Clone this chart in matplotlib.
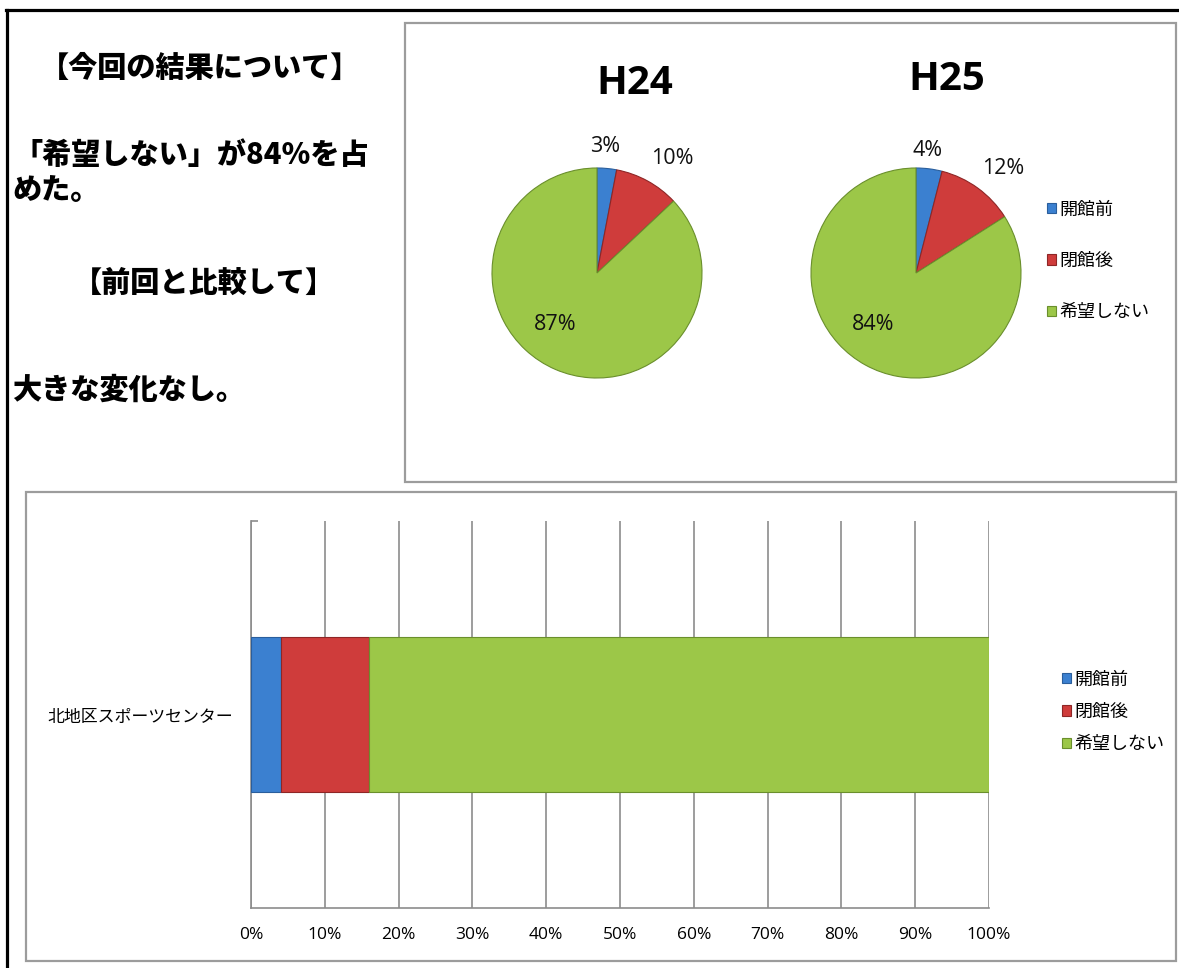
import matplotlib
matplotlib.use("Agg")
import matplotlib.pyplot as plt
from matplotlib.patches import Rectangle
from matplotlib.lines import Line2D
import numpy as np

plt.rcParams['font.family'] = ['Noto Sans CJK JP', 'DejaVu Sans']

# ---------------- data ----------------
categories = ["開館前", "閉館後", "希望しない"]
pie_years = ["H24", "H25"]
pie_h24 = [3, 10, 87]
pie_h25 = [4, 12, 84]
bar_category = "北地区スポーツセンター"
bar_values = [4, 12, 84]
x_ticks = [0, 10, 20, 30, 40, 50, 60, 70, 80, 90, 100]
x_tick_labels = [f"{v}%" for v in x_ticks]

notes_title1 = "【今回の結果について】"
notes_line1 = "「希望しない」が84%を占"
notes_line2 = "めた。"
notes_title2 = "【前回と比較して】"
notes_line3 = "大きな変化なし。"

colors = ["#3b80d0", "#cf3c3b", "#9cc748"]
edges = ["#2a5e9c", "#8e2626", "#6a8f2c"]

# ---------------- figure ----------------
W, H = 1179, 968
fig = plt.figure(figsize=(W / 100, H / 100), dpi=100)
fig.patch.set_facecolor("white")


def fx(x):
    return x / W


def fy(y):
    return 1 - y / H


def add_px_axes(left, top, width, height):
    return fig.add_axes([fx(left), fy(top + height), width / W, height / H])


# outer black frame (top and left)
fig.add_artist(Line2D([fx(6), fx(1179)], [fy(10), fy(10)], color="black", lw=2.3))
fig.add_artist(Line2D([fx(6.5), fx(6.5)], [fy(10), fy(968)], color="black", lw=2.3))

# gray panel boxes
for (l, t, r, b) in [(405, 23, 1176, 482), (26, 492, 1176, 961)]:
    fig.add_artist(Rectangle((fx(l), fy(b)), (r - l) / W, (b - t) / H,
                             transform=fig.transFigure, fill=False,
                             edgecolor="#9c9c9c", lw=1.6))

# ---------------- left notes ----------------
note_font = dict(fontsize=21, fontweight=900, color="black",
                 family=['Noto Sans CJK JP', 'DejaVu Sans'])
fig.text(fx(200), fy(68), notes_title1, ha="center", va="center", **note_font)
fig.text(fx(13), fy(155), notes_line1, ha="left", va="center", **note_font)
fig.text(fx(12), fy(190), notes_line2, ha="left", va="center", **note_font)
fig.text(fx(204), fy(283), notes_title2, ha="center", va="center", **note_font)
fig.text(fx(12), fy(390), notes_line3, ha="left", va="center", **note_font)

# ---------------- pies ----------------
pie_centers = [(597, 273), (916, 273)]
radius = 105
title_pos = [(635, 83), (947, 80)]
label_offsets = [
    [(8, 127), (75, 114), (-42, -52)],
    [(12, 123), (87, 105), (-43, -52)],
]
half = 150
wedges_for_legend = None
for i, (vals, year) in enumerate(zip([pie_h24, pie_h25], pie_years)):
    cx, cy = pie_centers[i]
    ax = add_px_axes(cx - half, cy - half, 2 * half, 2 * half)
    wedges, _ = ax.pie(vals, colors=colors, startangle=90, counterclock=False,
                       radius=radius, center=(0, 0),
                       wedgeprops=dict(linewidth=0.8))
    for w, ec in zip(wedges, edges):
        w.set_edgecolor(ec)
    ax.set_xlim(-half, half)
    ax.set_ylim(-half, half)
    ax.set_aspect("equal")
    ax.axis("off")
    for v, (dx, dy) in zip(vals, label_offsets[i]):
        ax.text(dx, dy, f"{v}%", ha="center", va="center", fontsize=15.5,
                family=["Open Sans", "DejaVu Sans"], color="#111111")
    tx, ty = title_pos[i]
    fig.text(fx(tx), fy(ty), year, ha="center", va="center", fontsize=29,
             fontweight="bold", family=["Open Sans", "DejaVu Sans"])
    wedges_for_legend = wedges

leg1 = fig.legend(wedges_for_legend, categories, loc="center left",
                  bbox_to_anchor=(fx(1047), fy(261)), frameon=False,
                  fontsize=13, handlelength=0.5, handleheight=0.5,
                  handletextpad=0.2, labelspacing=1.85, borderaxespad=0,
                  borderpad=0)

# ---------------- stacked bar ----------------
bax = add_px_axes(251, 521, 989 - 251, 908 - 521)
left = 0
bars = []
for v, c, ec, name in zip(bar_values, colors, edges, categories):
    b = bax.barh([0], [v], left=left, height=0.4, color=c, edgecolor=ec,
                 linewidth=0.8, label=name, zorder=3)
    bars.append(b)
    left += v
bax.set_xlim(0, 100)
bax.set_ylim(-0.5, 0.5)
bax.set_xticks(x_ticks)
bax.set_xticklabels(x_tick_labels, fontsize=12.5, family=["Open Sans", "DejaVu Sans"])
bax.set_yticks([0])
bax.set_yticklabels([bar_category], fontsize=12.2)
bax.set_yticks([0.5], minor=True)
bax.tick_params(axis="y", which="major", length=0, pad=13)
bax.tick_params(axis="y", which="minor", length=5, direction="in",
                color="#8c8c8c", width=1.2)
bax.tick_params(axis="x", length=0, pad=14)
bax.xaxis.grid(True, color="#8c8c8c", lw=1.2, zorder=0)
bax.set_axisbelow(True)
for s in ["top", "right"]:
    bax.spines[s].set_visible(False)
for s in ["left", "bottom"]:
    bax.spines[s].set_color("#8c8c8c")
    bax.spines[s].set_linewidth(1.2)

leg2 = fig.legend([b[0] for b in bars], categories, loc="center left",
                  bbox_to_anchor=(fx(1062), fy(712)), frameon=False,
                  fontsize=13, handlelength=0.5, handleheight=0.5,
                  handletextpad=0.2, labelspacing=0.8, borderaxespad=0,
                  borderpad=0)

fig.savefig("out.png", dpi=100, facecolor="white")
